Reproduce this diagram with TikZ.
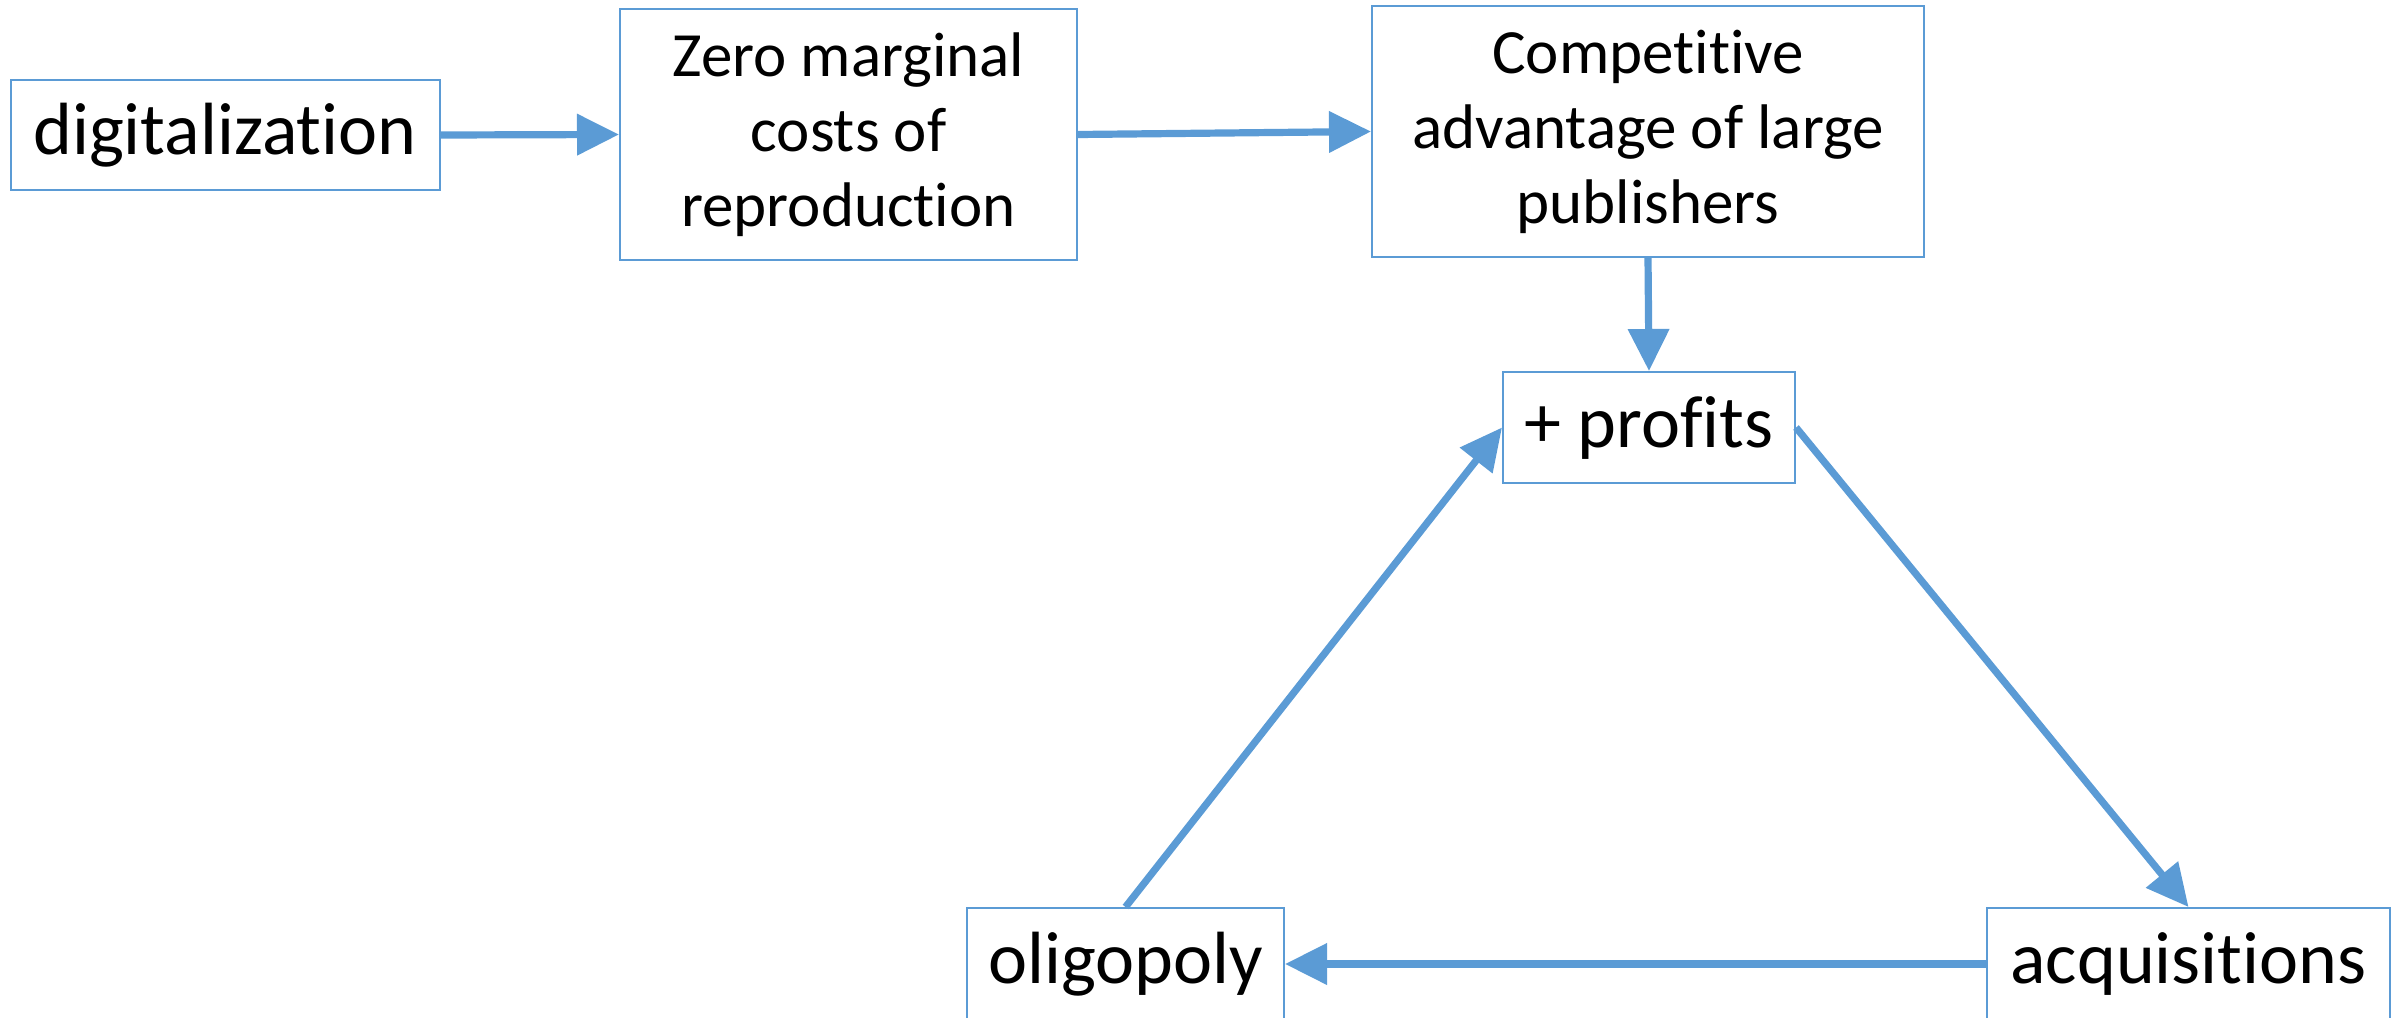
\documentclass[tikz,border=0pt]{standalone}
\usepackage{fontspec}
\setmainfont{Carlito}[Ligatures={NoCommon,NoRare,NoContextual}]
\usetikzlibrary{arrows.meta}
\definecolor{obl}{HTML}{5B9BD5}
\begin{document}
\begin{tikzpicture}[x=0.5pt,y=-0.5pt,
  box/.style={draw=obl,line width=1pt,inner sep=0pt,align=center,text=black},
  big/.style={font=\fontsize{37pt}{44pt}\selectfont},
  small/.style={font=\fontsize{31.5pt}{37.5pt}\selectfont},
  conn/.style={draw=obl,line width=3.6pt,-{Triangle[length=21pt,width=20pt]}}]
\useasboundingbox (0,0) rectangle (2402,1017);
\node[box,big,minimum width=214.5pt,minimum height=55pt] (dig) at (225,135) {digitalization};
\node[box,small,minimum width=228.5pt,minimum height=125.5pt] (zero) at (848.5,134.5) {Zero marginal\\costs of\\reproduction};
\node[box,small,minimum width=276pt,minimum height=125.5pt] (comp) at (1648,131.5) {Competitive\\advantage of large\\publishers};
\node[box,big,minimum width=146pt,minimum height=55.5pt] (prof) at (1649,427.5) {+ profits};
\node[box,big,minimum width=158.5pt,minimum height=56pt] (olig) at (1125.5,964) {oligopoly};
\node[box,big,minimum width=201.5pt,minimum height=56pt] (acq) at (2188.5,964) {acquisitions};
\draw[conn] (dig.east) -- (zero.west);
\draw[conn] (zero.east) -- (comp.west);
\draw[conn] (comp.south) -- (prof.north);
\draw[conn] (prof.east) -- (acq.north);
\draw[conn] (acq.west) -- (olig.east);
\draw[conn] (olig.north) -- (prof.west);
\end{tikzpicture}
\end{document}
